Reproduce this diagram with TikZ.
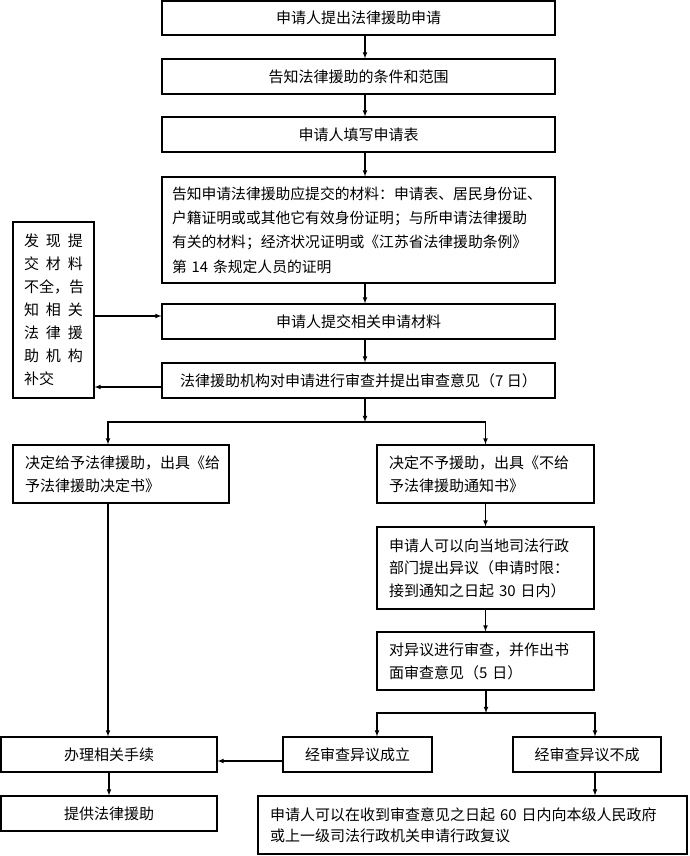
\documentclass[tikz,border=0pt]{standalone}
\usepackage{fontspec}
\newfontfamily\cjk{Noto Sans CJK SC}
\usetikzlibrary{arrows, calc}

\tikzset{
  box/.style={draw, line width=1.1pt, inner sep=0pt, font=\cjk\fontsize{15}{23}\selectfont},
  para/.style={box, align=left, inner xsep=12pt},
  flow/.style={-latex, line width=1.1pt},
}

\begin{document}
\begin{tikzpicture}[x=1pt,y=-1pt]
        \useasboundingbox (0,0) rectangle (690,856);
        \coordinate (spine) at (365,0);
        \coordinate (leftcol) at (108,0);
        \coordinate (split) at (365,422);
        \coordinate (split2) at (486,713);
        \coordinate (colA) at (377,0);
        \coordinate (colB) at (595,0);

        \node[box, minimum width=393pt, minimum height=34pt] (apply) at (358.5,18) {申请人提出法律援助申请};
        \node[box, minimum width=393pt, minimum height=35pt] (inform) at (358.5,76.5) {告知法律援助的条件和范围};
        \node[box, minimum width=393pt, minimum height=35pt] (fill) at (358.5,134.5) {申请人填写申请表};
        \node[para, inner xsep=10pt, text width=373pt, minimum height=106pt, font=\cjk\fontsize{14.8}{24.3}\selectfont] (material) at (358.5,230)
            {告知申请法律援助应提交的材料：申请表、居民身份证、\\户籍证明或或其他它有效身份证明；与所申请法律援助\\有关的材料；经济状况证明或《江苏省法律援助条例》\\第 14 条规定人员的证明};
        \node[box, minimum width=393pt, minimum height=35pt] (submit) at (358.5,321.5) {申请人提交相关申请材料};
        \node[box, minimum width=393pt, minimum height=35pt] (review) at (358.5,380.5) {法律援助机构对申请进行审查并提出审查意见（7 日）};
        \node[para, inner xsep=11pt, text width=59pt, minimum height=176pt] (notice) at (53.5,310)
            {发\hfill 现\hfill 提\\交\hfill 材\hfill 料\\不全，告\\知\hfill 相\hfill 关\\法\hfill 律\hfill 援\\助\hfill 机\hfill 构\\补交};

        \node[para, text width=192pt, minimum height=58pt] (grant) at (121,474)
            {决定给予法律援助，出具《给\\予法律援助决定书》};
        \node[para, text width=193pt, minimum height=58pt] (refuse) at (485.5,474)
            {决定不予援助，出具《不给\\予法律援助通知书》};
        \node[para, text width=193pt, minimum height=82pt, font=\cjk\fontsize{15}{22.5}\selectfont] (object) at (485.5,568)
            {申请人可以向当地司法行政\\部门提出异议（申请时限：\\接到通知之日起 30 日内）};
        \node[para, text width=193pt, minimum height=58pt] (recheck) at (485.5,661)
            {对异议进行审查，并作出书\\面审查意见（5 日）};
        \node[box, minimum width=149pt, minimum height=35pt] (upheld) at (357.5,754.5) {经审查异议成立};
        \node[box, minimum width=148pt, minimum height=35pt] (rejected) at (587,754.5) {经审查异议不成};
        \node[box, minimum width=216pt, minimum height=35pt] (handle) at (109,754.5) {办理相关手续};
        \node[box, minimum width=216pt, minimum height=35pt] (provide) at (109,813.5) {提供法律援助};
        \node[para, text width=405pt, minimum height=58pt, font=\cjk\fontsize{15}{21}\selectfont] (appeal) at (472.5,825)
            {申请人可以在收到审查意见之日起 60 日内向本级人民政府\\或上一级司法行政机关申请行政复议};

        \coordinate (inB) at ($(submit.west)+(0,-5.5)$);
        \coordinate (outB) at ($(review.west)+(0,6.5)$);
        \coordinate (inC) at ($(upheld.west)+(0,6.5)$);

        \draw[flow] (apply.south -| spine) -- (inform.north -| spine);
        \draw[flow] (inform.south -| spine) -- (fill.north -| spine);
        \draw[flow] (fill.south -| spine) -- (material.north -| spine);
        \draw[flow] (material.south -| spine) -- (submit.north -| spine);
        \draw[flow] (submit.south -| spine) -- (review.north -| spine);
        \draw[flow] (inB -| notice.east) -- (inB);
        \draw[flow] (outB) -- (outB -| notice.east);

        \draw[flow] (review.south -| spine) -- (split);
        \draw[flow] (split) -| (grant.north -| leftcol);
        \draw[flow] (split) -| (refuse.north);
        \draw[flow] (refuse) -- (object);
        \draw[flow] (object) -- (recheck);
        \draw[flow] (recheck.south -| split2) -- (split2);
        \draw[flow] (split2) -| (upheld.north -| colA);
        \draw[flow] (split2) -| (rejected.north -| colB);
        \draw[flow] (rejected.south -| colB) -- (appeal.north -| colB);

        \draw[flow] (grant.south -| leftcol) -- (handle.north -| leftcol);
        \draw[flow] (inC) -- (inC -| handle.east);
        \draw[flow] (handle) -- (provide);
    \end{tikzpicture}
\end{document}
